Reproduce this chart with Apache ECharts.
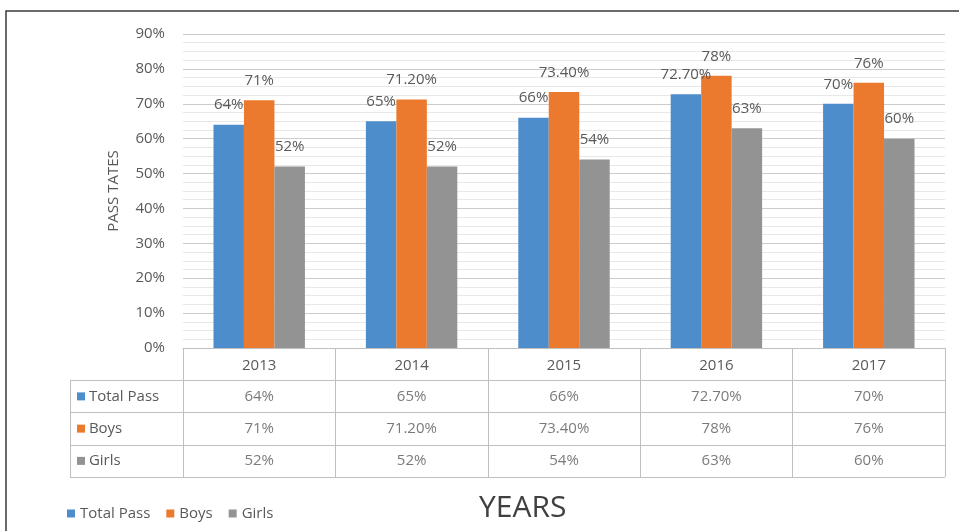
<!DOCTYPE html>
<html>
<head>
<meta charset="utf-8">
<script src="https://cdn.jsdelivr.net/npm/echarts@6/dist/echarts.min.js"></script>
<style>
  html, body { margin: 0; padding: 0; background: #fff; }
  #chart { width: 959px; height: 531px; }
</style>
</head>
<body>
<div id="chart"></div>
<script>
// values
var years = ['2013', '2014', '2015', '2016', '2017'];
var totalPass = [64, 65, 66, 72.7, 70];
var boys = [71, 71.2, 73.4, 78, 76];
var girls = [52, 52, 54, 63, 60];
var seriesNames = ['Total Pass', 'Boys', 'Girls'];
var colors = ['#4e8dcb', '#eb7a2f', '#939393'];

var textColor = '#595959';
var font = 'Open Sans';

function pct(v) {
  return Number.isInteger(v) ? v + '%' : v.toFixed(2) + '%';
}

var chart = echarts.init(document.getElementById('chart'));

// cells of the data table: [year index, row index, value]
var rows = [totalPass, boys, girls];
var cells = [];
rows.forEach(function (row, r) {
  row.forEach(function (v, i) {
    cells.push([i, r + 1, v]);
  });
});

var rich = {};
colors.forEach(function (c, i) {
  rich['s' + i] = { width: 8, height: 8, backgroundColor: c };
});

function barSeries(name, data, color) {
  return {
    name: name,
    type: 'bar',
    data: data,
    barGap: 0,
    barCategoryGap: '40%',
    itemStyle: { color: color },
    label: {
      show: true,
      position: 'top',
      distance: 12,
      color: textColor,
      fontFamily: font,
      fontSize: 15,
      formatter: function (p) { return pct(p.value); }
    }
  };
}

var option = {
  backgroundColor: '#fff',
  textStyle: { fontFamily: font },
  title: {
    text: 'YEARS',
    left: 474,
    top: 488,
    textStyle: { fontSize: 30, fontWeight: 'normal', color: '#404040', fontFamily: font }
  },
  legend: {
    data: seriesNames,
    left: 62,
    top: 501,
    icon: 'rect',
    itemWidth: 8,
    itemHeight: 8,
    itemGap: 16,
    textStyle: { color: textColor, fontSize: 15, fontFamily: font }
  },
  grid: [
    { left: 183, right: 14, top: 34, bottom: 183 },
    { left: 183, right: 14, top: 348, bottom: 54 },
    { left: 70, width: 113, top: 380.25, bottom: 54 }
  ],
  xAxis: [
    {
      type: 'category',
      gridIndex: 0,
      data: years,
      axisLine: { lineStyle: { color: '#bfbfbf' } },
      axisTick: { show: false },
      axisLabel: { color: textColor, fontSize: 15, margin: 10, fontFamily: font }
    },
    {
      type: 'category',
      gridIndex: 1,
      data: years,
      axisLine: { show: false },
      axisTick: { show: false },
      axisLabel: { show: false },
      splitLine: { show: true, lineStyle: { color: '#bfbfbf' } }
    },
    { type: 'value', gridIndex: 2, show: false }
  ],
  yAxis: [
    {
      type: 'value',
      gridIndex: 0,
      min: 0,
      max: 90,
      interval: 10,
      name: 'PASS TATES',
      nameLocation: 'middle',
      nameGap: 62,
      nameTextStyle: { color: textColor, fontSize: 15, fontFamily: font },
      axisLine: { show: false },
      axisTick: { show: false },
      axisLabel: { color: textColor, fontSize: 15, margin: 18, formatter: '{value}%', fontFamily: font },
      splitLine: { lineStyle: { color: '#cccccc' } },
      minorTick: { show: false, splitNumber: 4 },
      minorSplitLine: { show: true, lineStyle: { color: '#e8e8e8' } }
    },
    {
      type: 'category',
      gridIndex: 1,
      inverse: true,
      data: [''].concat(seriesNames),
      axisLine: { show: false },
      axisTick: { show: false },
      axisLabel: { show: false },
      splitLine: { show: true, lineStyle: { color: '#bfbfbf' } }
    },
    {
      type: 'category',
      gridIndex: 2,
      inverse: true,
      data: seriesNames,
      axisLine: { show: true, lineStyle: { color: '#bfbfbf' } },
      axisTick: { show: false },
      splitLine: { show: true, lineStyle: { color: '#bfbfbf' } },
      axisLabel: {
        inside: true,
        margin: 7,
        color: textColor,
        fontSize: 15,
        fontFamily: font,
        formatter: function (v, i) { return '{s' + i + '|} ' + v; },
        rich: rich
      }
    }
  ],
  series: [
    barSeries(seriesNames[0], totalPass, colors[0]),
    barSeries(seriesNames[1], boys, colors[1]),
    barSeries(seriesNames[2], girls, colors[2]),
    {
      name: 'table',
      type: 'scatter',
      xAxisIndex: 1,
      yAxisIndex: 1,
      data: cells,
      symbolSize: 1,
      itemStyle: { color: 'rgba(0,0,0,0)' },
      silent: true,
      label: {
        show: true,
        position: 'inside',
        color: textColor,
        fontSize: 15,
        fontFamily: font,
        formatter: function (p) { return pct(p.value[2]); }
      }
    }
  ],
  graphic: [
    {
      type: 'rect',
      shape: { x: 6, y: 11, width: 990, height: 540 },
      style: { fill: 'none', stroke: '#3a3a3a', lineWidth: 1.5 },
      silent: true
    }
  ]
};

chart.setOption(option);
</script>
</body>
</html>
